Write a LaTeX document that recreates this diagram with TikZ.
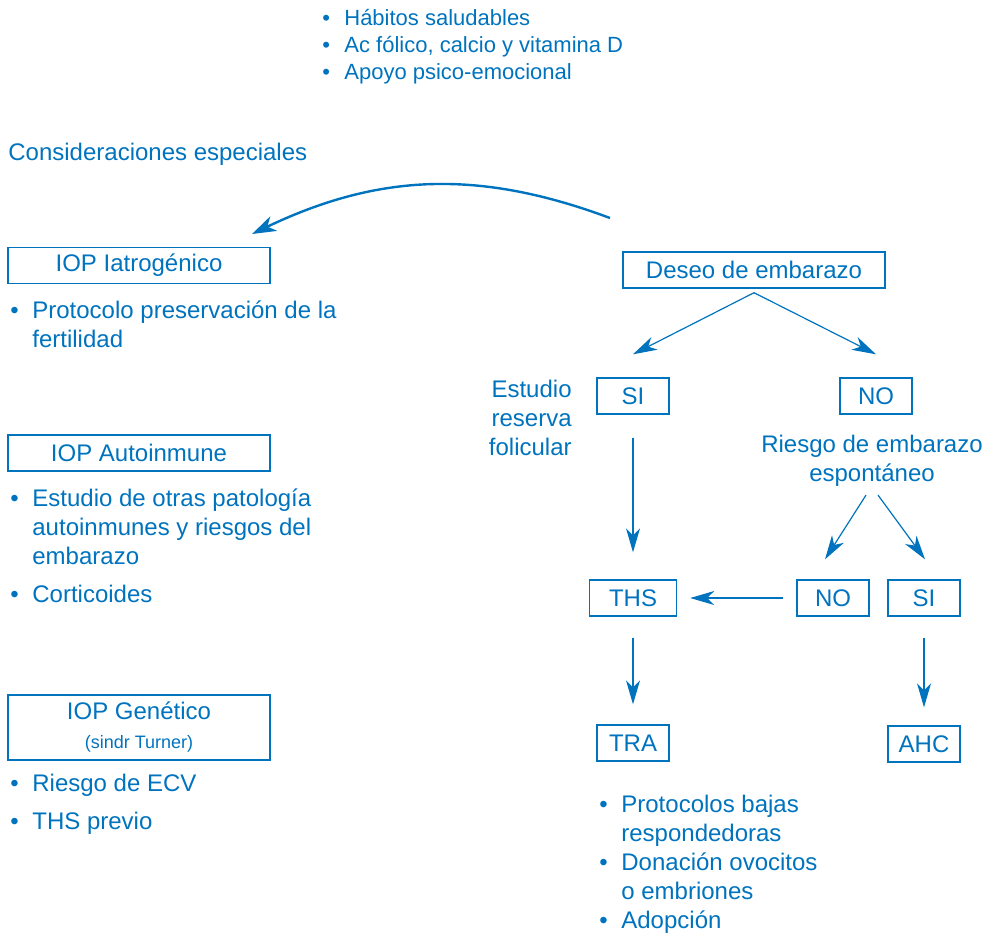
\documentclass[tikz,border=0pt]{standalone}
\usepackage{fontspec}
\setmainfont{Liberation Sans}
\usepackage{tikz}
\usetikzlibrary{arrows.meta}
\definecolor{azul}{RGB}{0,115,190}
\tikzstyle{caja} = [rectangle, draw=azul, line width=0.7pt, minimum width=131pt, minimum height=18pt, text centered, inner sep=0pt]
\tikzstyle{cajita} = [rectangle, draw=azul, line width=0.7pt, minimum width=36pt, minimum height=18pt, text centered, inner sep=0pt]
\tikzstyle{lista} = [align=left, anchor=base west, inner sep=0pt]
\tikzstyle{flecha} = [draw=azul, line width=0.6pt, -{Stealth[length=12pt, width=7pt, inset=3.5pt]}]
\tikzstyle{curva} = [draw=azul, line width=1.2pt, -{Stealth[length=12pt, width=8pt, inset=3.5pt]}]
\newcommand{\punto}{\makebox[11pt][l]{\textbullet}}
\newcommand{\sangria}{\hspace*{11pt}}

\begin{document}
\begin{tikzpicture}[x=0.5pt, y=-0.5pt, every node/.style={text=azul, font=\fontsize{12pt}{14.5pt}\selectfont}]
        \useasboundingbox (0,0) rectangle (984,933);
        % arriba (base = ultima linea)
        \node (habitos) [lista, font=\fontsize{11pt}{13.5pt}\selectfont] at (322,79) {\punto Hábitos saludables\\\punto Ac fólico, calcio y vitamina D\\\punto Apoyo psico-emocional};
        \node (especiales) [anchor=base west, inner sep=0pt] at (8,160) {Consideraciones especiales};
        % columna izquierda
        \node (iatro) [caja] at (139,265.5) {IOP Iatrogénico};
        \node (iatrol) [lista] at (10,347) {\punto Protocolo preservación de la\\\sangria fertilidad};
        \node (auto) [caja] at (139,453) {IOP Autoinmune};
        \node (autol) [lista] at (10,602) {\punto Estudio de otras patología\\\sangria autoinmunes y riesgos del\\\sangria embarazo\\[4.5pt]\punto Corticoides};
        \node (gen) [caja, minimum height=32.5pt, align=center] at (139,727.5) {IOP Genético\\[0pt]{\fontsize{9pt}{11pt}\selectfont (sindr Turner)}};
        \node (genl) [lista] at (10,829) {\punto Riesgo de ECV\\[4.5pt]\punto THS previo};
        % columna derecha
        \node (deseo) [caja] at (754,270) {Deseo de embarazo};
        \node (si1) [cajita] at (633,396) {SI};
        \node (no1) [cajita, right of=si1, node distance=121.5pt] {NO};
        \node (reserva) [align=right, anchor=east, inner sep=0pt] at (572,418) {Estudio\\reserva\\folicular};
        \node (riesgo) [align=center, inner sep=0pt] at (872,461) {Riesgo de embarazo\\espontáneo};
        \node (ths) [cajita, minimum width=43.5pt, below of=si1, node distance=101pt] {THS};
        \node (no2) [cajita, right of=ths, node distance=100pt] {NO};
        \node (si2) [cajita, right of=no2, node distance=45.5pt] {SI};
        \node (tra) [cajita, below of=ths, node distance=72.5pt] {TRA};
        \node (ahc) [cajita, below of=si2, node distance=73pt] {AHC};
        \node (tral) [lista] at (599,928) {\punto Protocolos bajas\\\sangria respondedoras\\\punto Donación ovocitos\\\sangria o embriones\\\punto Adopción};
        \coordinate (arcini) at (610,218);
        \coordinate (arcfin) at (252,234);
        \draw [curva] (arcini) to[bend right=23] (arcfin);
        \draw [flecha] ([yshift=-2pt]deseo.south) -- ([yshift=11.5pt]si1.north);
        \draw [flecha] ([yshift=-2pt]deseo.south) -- ([yshift=11.5pt]no1.north);
        \draw [flecha, shorten <=11.5pt, shorten >=13.5pt] (si1) -- (ths);
        \draw [flecha] ([xshift=-3pt, yshift=-4pt]riesgo.south) -- ([xshift=-4pt, yshift=10pt]no2.north);
        \draw [flecha] ([xshift=3pt, yshift=-4pt]riesgo.south) -- ([xshift=0.5pt, yshift=10pt]si2.north);
        \draw [flecha, shorten <=6.5pt, shorten >=6.5pt] (no2) -- (ths);
        \draw [flecha, shorten <=10.5pt, shorten >=10pt] (ths) -- (tra);
        \draw [flecha, shorten <=10.5pt, shorten >=9pt] (si2) -- (ahc);
      \end{tikzpicture}
\end{document}
